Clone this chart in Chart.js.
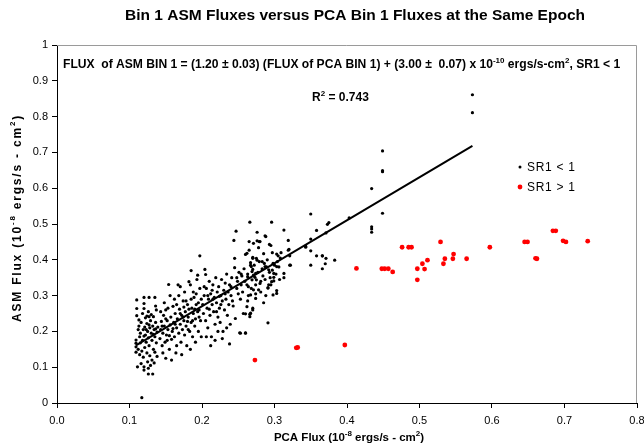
<!DOCTYPE html>
<html>
<head>
<meta charset="utf-8">
<script src="https://cdn.jsdelivr.net/npm/chart.js@4/dist/chart.umd.min.js"></script>
<style>
  html, body { margin: 0; padding: 0; background: #fff; }
  canvas { display: block; }
</style>
</head>
<body>
<canvas id="c" width="644" height="448"></canvas>
<script>
// ---------------- DATA ----------------
const chartTitle = "Bin 1 ASM Fluxes versus PCA Bin 1 Fluxes at the Same Epoch";
const xTicks = [0.0, 0.1, 0.2, 0.3, 0.4, 0.5, 0.6, 0.7, 0.8];
const yTicks = [0, 0.1, 0.2, 0.3, 0.4, 0.5, 0.6, 0.7, 0.8, 0.9, 1];
const legendLabels = ["SR1 < 1", "SR1 > 1"];
const rSquared = "0.743";

// fit line end points (ASM = 1.20 * PCA + 0.030)
const fitLine = [[0.109, 0.161], [0.573, 0.718]];

// SR1 > 1 points (red)
const sr1High = [
  [0.273,0.120],[0.330,0.154],[0.332,0.155],[0.397,0.162],
  [0.413,0.376],[0.448,0.375],[0.452,0.375],[0.457,0.375],[0.463,0.366],
  [0.476,0.435],[0.485,0.435],[0.489,0.435],[0.497,0.375],[0.497,0.344],
  [0.504,0.389],[0.507,0.374],[0.511,0.399],[0.529,0.450],[0.533,0.389],
  [0.535,0.403],[0.546,0.403],[0.547,0.416],[0.565,0.403],[0.597,0.435],
  [0.645,0.450],[0.649,0.450],[0.660,0.404],[0.662,0.403],[0.684,0.481],
  [0.688,0.481],[0.698,0.453],[0.702,0.450],[0.732,0.452]
];

// SR1 < 1 points (black)
const sr1LowA = [ // PCA 0.10 - 0.14
  [0.110,0.288],[0.110,0.264],[0.110,0.244],[0.109,0.176],[0.109,0.167],[0.109,0.157],[0.109,0.142],
  [0.111,0.101],[0.117,0.015],[0.120,0.101],[0.120,0.092],[0.126,0.097],[0.126,0.081],[0.132,0.081],
  [0.120,0.295],[0.127,0.295],[0.135,0.295],[0.120,0.278],[0.120,0.264],[0.124,0.243],[0.127,0.241],
  [0.133,0.241],[0.136,0.271],[0.137,0.260],[0.112,0.205],[0.113,0.215],[0.115,0.195],[0.114,0.185],
  [0.116,0.225],[0.118,0.175],[0.119,0.205],[0.121,0.212],[0.122,0.190],[0.123,0.170],[0.124,0.222],
  [0.125,0.200],[0.126,0.182],[0.127,0.160],[0.128,0.210],[0.129,0.230],[0.130,0.195],[0.131,0.175],
  [0.132,0.215],[0.133,0.150],[0.134,0.205],[0.135,0.185],[0.136,0.225],[0.137,0.168],[0.138,0.198],
  [0.139,0.212],[0.112,0.150],[0.114,0.135],[0.117,0.145],[0.119,0.128],[0.121,0.155],[0.124,0.140],
  [0.128,0.132],[0.131,0.120],[0.135,0.142],[0.138,0.130],[0.113,0.232],[0.118,0.250],[0.122,0.238],
  [0.126,0.255],[0.130,0.247],[0.115,0.168],[0.123,0.205],[0.127,0.218],[0.133,0.192],[0.136,0.207],
  [0.120,0.187],[0.116,0.110],[0.125,0.115],[0.129,0.105],[0.134,0.112]
];
const sr1LowB = [ // PCA 0.14 - 0.20
  [0.142,0.180],[0.143,0.205],[0.144,0.228],[0.145,0.160],[0.146,0.195],[0.147,0.245],[0.148,0.215],
  [0.149,0.170],[0.150,0.260],[0.151,0.190],[0.152,0.230],[0.153,0.205],[0.154,0.331],[0.155,0.150],
  [0.156,0.218],[0.157,0.240],[0.158,0.178],[0.159,0.200],[0.160,0.270],[0.161,0.225],[0.162,0.185],
  [0.163,0.250],[0.164,0.140],[0.165,0.210],[0.166,0.235],[0.167,0.330],[0.168,0.195],[0.169,0.262],
  [0.170,0.325],[0.170,0.220],[0.171,0.170],[0.172,0.245],[0.173,0.205],[0.174,0.285],[0.175,0.230],
  [0.176,0.190],[0.177,0.255],[0.178,0.215],[0.179,0.160],[0.180,0.275],[0.181,0.240],[0.182,0.339],
  [0.183,0.200],[0.184,0.330],[0.185,0.370],[0.185,0.225],[0.186,0.265],[0.187,0.185],[0.188,0.250],
  [0.189,0.295],[0.190,0.215],[0.191,0.235],[0.192,0.275],[0.193,0.345],[0.194,0.357],[0.195,0.200],
  [0.196,0.260],[0.197,0.411],[0.198,0.230],[0.199,0.290],[0.143,0.255],[0.146,0.140],[0.150,0.125],
  [0.153,0.265],[0.156,0.300],[0.158,0.120],[0.162,0.290],[0.165,0.160],[0.168,0.300],[0.172,0.135],
  [0.176,0.310],[0.178,0.285],[0.181,0.205],[0.184,0.150],[0.188,0.310],[0.191,0.170],[0.194,0.255],
  [0.197,0.320],[0.199,0.185],[0.145,0.215],[0.150,0.235],[0.155,0.188],[0.160,0.208],[0.165,0.275],
  [0.170,0.250],[0.175,0.268],[0.180,0.228],[0.185,0.290],[0.190,0.262],[0.195,0.280],[0.148,0.280],
  [0.152,0.175],[0.163,0.220],[0.174,0.240],[0.182,0.262],[0.187,0.230],[0.192,0.305],[0.196,0.240]
];
const sr1LowC = [ // PCA 0.20 - 0.26
  [0.204,0.373],[0.205,0.359],[0.201,0.275],[0.202,0.250],[0.203,0.300],[0.205,0.230],[0.206,0.320],
  [0.207,0.265],[0.208,0.210],[0.209,0.290],[0.210,0.340],[0.211,0.245],[0.212,0.305],[0.213,0.185],
  [0.214,0.275],[0.215,0.330],[0.216,0.255],[0.217,0.295],[0.218,0.220],[0.219,0.350],[0.220,0.280],
  [0.221,0.310],[0.222,0.240],[0.223,0.325],[0.224,0.265],[0.225,0.225],[0.226,0.300],[0.227,0.345],
  [0.228,0.285],[0.229,0.200],[0.230,0.315],[0.231,0.260],[0.232,0.335],[0.233,0.290],[0.234,0.360],
  [0.235,0.245],[0.236,0.310],[0.237,0.275],[0.238,0.330],[0.239,0.220],[0.240,0.300],[0.241,0.350],
  [0.242,0.285],[0.243,0.271],[0.244,0.454],[0.245,0.378],[0.245,0.404],[0.246,0.236],[0.247,0.480],
  [0.248,0.320],[0.249,0.340],[0.250,0.305],[0.251,0.365],[0.252,0.196],[0.253,0.290],[0.254,0.330],
  [0.255,0.355],[0.256,0.310],[0.257,0.250],[0.258,0.375],[0.259,0.340],[0.260,0.415],[0.260,0.196],
  [0.206,0.185],[0.212,0.160],[0.218,0.175],[0.222,0.200],[0.228,0.180],[0.234,0.210],[0.238,0.165],
  [0.210,0.262],[0.215,0.290],[0.220,0.255],[0.226,0.275],[0.232,0.305],[0.240,0.325],[0.248,0.350],
  [0.254,0.360],[0.203,0.325],[0.208,0.300],[0.214,0.315],[0.224,0.298],[0.253,0.195],[0.260,0.195]
];
const sr1LowD = [ // PCA 0.26 - 0.31
  [0.262,0.269],[0.263,0.360],[0.265,0.427],[0.265,0.451],[0.266,0.505],[0.266,0.248],[0.266,0.241],
  [0.267,0.392],[0.268,0.381],[0.269,0.344],[0.270,0.407],[0.270,0.373],[0.271,0.357],[0.273,0.351],
  [0.275,0.404],[0.276,0.477],[0.276,0.453],[0.278,0.434],[0.280,0.451],[0.285,0.417],[0.285,0.280],
  [0.288,0.465],[0.291,0.322],[0.291,0.224],[0.292,0.330],[0.294,0.350],[0.295,0.440],[0.296,0.505],
  [0.297,0.420],[0.297,0.371],[0.299,0.351],[0.303,0.416],[0.303,0.314],[0.305,0.411],[0.308,0.405],
  [0.262,0.330],[0.264,0.300],[0.268,0.320],[0.272,0.385],[0.274,0.330],[0.277,0.365],[0.279,0.395],
  [0.281,0.340],[0.283,0.375],[0.284,0.355],[0.286,0.390],[0.287,0.345],[0.289,0.380],[0.290,0.400],
  [0.293,0.365],[0.298,0.390],[0.300,0.385],[0.302,0.360],[0.304,0.395],[0.306,0.380],[0.307,0.345],
  [0.309,0.420],[0.263,0.285],[0.270,0.260],[0.274,0.305],[0.281,0.310],[0.288,0.300],[0.295,0.330],
  [0.267,0.251],[0.260,0.249],[0.270,0.265],[0.303,0.306],[0.298,0.302],[0.291,0.321],[0.296,0.339],
  [0.299,0.341],[0.287,0.467],[0.279,0.451],[0.293,0.443],[0.271,0.446],[0.262,0.418],[0.270,0.404],
  [0.276,0.399],[0.267,0.385],[0.269,0.367],[0.274,0.362],[0.263,0.353],[0.275,0.344],[0.264,0.325],
  [0.271,0.316],[0.278,0.316],[0.267,0.302],[0.274,0.292],[0.280,0.334],[0.287,0.381],[0.283,0.395],
  [0.292,0.372],[0.299,0.362],[0.303,0.381]
];
const sr1LowE = [ // PCA > 0.31
  [0.313,0.483],[0.313,0.362],[0.313,0.350],[0.319,0.454],[0.319,0.427],[0.320,0.429],[0.321,0.411],
  [0.321,0.385],[0.322,0.385],[0.343,0.438],[0.343,0.435],[0.350,0.528],[0.350,0.458],[0.350,0.425],
  [0.350,0.385],[0.358,0.482],[0.358,0.411],[0.366,0.411],[0.366,0.375],[0.370,0.389],[0.371,0.404],
  [0.371,0.475],[0.373,0.499],[0.375,0.504],[0.383,0.399],[0.403,0.517],[0.366,0.411],
  [0.434,0.599],[0.434,0.492],[0.434,0.486],[0.434,0.477],[0.449,0.704],[0.449,0.649],[0.449,0.646],
  [0.449,0.530],[0.573,0.861],[0.573,0.811]
];
const sr1Low = [].concat(sr1LowA, sr1LowB, sr1LowC, sr1LowD, sr1LowE);

// ---------------- DRAWING ----------------
const FAM = '"Liberation Sans", Arial, Helvetica, sans-serif';
const toXY = arr => arr.map(p => ({x: p[0], y: p[1]}));

function rich(ctx, segs, x, y, size, bold, align, spacing) {
  const fontFor = s => (bold ? 'bold ' : '') + (s.sup ? Math.round(size * 0.68) : size) + 'px ' + FAM;
  try { ctx.letterSpacing = (spacing || 0) + 'px'; } catch (e) {}
  let total = 0;
  segs.forEach(s => { ctx.font = fontFor(s); total += ctx.measureText(s.t).width; });
  let cx = align === 'center' ? x - total / 2 : x;
  ctx.textAlign = 'left';
  ctx.textBaseline = 'alphabetic';
  segs.forEach(s => {
    ctx.font = fontFor(s);
    ctx.fillText(s.t, cx, s.sup ? y - size * 0.42 : y);
    cx += ctx.measureText(s.t).width;
  });
  try { ctx.letterSpacing = '0px'; } catch (e) {}
}

const decor = {
  id: 'decor',
  afterDraw(chart) {
    const ctx = chart.ctx;
    const a = chart.chartArea;
    ctx.save();
    // plot frame top/right
    ctx.strokeStyle = '#9a9a9a';
    ctx.lineWidth = 1;
    ctx.beginPath();
    ctx.moveTo(a.left, a.top + 0.5);
    ctx.lineTo(a.right - 0.5, a.top + 0.5);
    ctx.lineTo(a.right - 0.5, a.bottom);
    ctx.stroke();

    ctx.fillStyle = '#000';
    // title
    ctx.font = 'bold 15.5px ' + FAM;
    ctx.textAlign = 'center';
    ctx.textBaseline = 'alphabetic';
    ctx.fillText(chartTitle, 355, 20);

    // equation
    rich(ctx, [
      {t: 'FLUX  of ASM BIN 1 = (1.20 \u00b1 0.03) (FLUX of PCA BIN 1) + (3.00 \u00b1  0.07) x 10'},
      {t: '-10', sup: true},
      {t: ' ergs/s-cm'},
      {t: '2', sup: true},
      {t: ', SR1 < 1'}
    ], 63, 68, 12.1, true, 'left');

    // R^2
    rich(ctx, [{t: 'R'}, {t: '2', sup: true}, {t: ' = ' + rSquared}], 312, 101, 12, true, 'left');

    // legend
    ctx.fillStyle = '#000';
    ctx.beginPath(); ctx.arc(520, 167, 1.5, 0, Math.PI * 2); ctx.fill();
    ctx.fillStyle = '#ff0000';
    ctx.beginPath(); ctx.arc(520, 187, 2.4, 0, Math.PI * 2); ctx.fill();
    ctx.fillStyle = '#000';
    ctx.font = '12px ' + FAM;
    ctx.textAlign = 'left';
    ctx.textBaseline = 'middle';
    try { ctx.letterSpacing = '0.7px'; } catch (e) {}
    ctx.fillText(legendLabels[0], 527, 168);
    ctx.fillText(legendLabels[1], 527, 188);
    try { ctx.letterSpacing = '0px'; } catch (e) {}

    // axis titles
    const midX = (a.left + a.right) / 2;
    rich(ctx, [
      {t: 'PCA Flux (10'}, {t: '-8', sup: true}, {t: ' ergs/s - cm'}, {t: '2', sup: true}, {t: ')'}
    ], midX + 2, 441, 11.5, true, 'center');
    ctx.save();
    ctx.translate(16, 218);
    ctx.rotate(-Math.PI / 2);
    rich(ctx, [
      {t: 'ASM Flux (10'}, {t: '-8', sup: true}, {t: ' ergs/s - cm'}, {t: '2', sup: true}, {t: ')'}
    ], 0, 4.5, 12, true, 'center', 1.8);
    ctx.restore();
    ctx.restore();
  }
};

const tickFont = {family: FAM, size: 11};

new Chart(document.getElementById('c'), {
  type: 'scatter',
  data: {
    datasets: [
      {
        label: legendLabels[0],
        data: toXY(sr1Low),
        pointRadius: 1.6,
        pointBackgroundColor: '#000',
        pointBorderWidth: 0,
        order: 2
      },
      {
        label: legendLabels[1],
        data: toXY(sr1High),
        pointRadius: 2.4,
        pointBackgroundColor: '#ff0000',
        pointBorderWidth: 0,
        order: 3
      },
      {
        label: 'fit',
        data: toXY(fitLine),
        showLine: true,
        borderColor: '#000',
        borderWidth: 2,
        pointRadius: 0,
        order: 1
      }
    ]
  },
  options: {
    responsive: false,
    animation: false,
    devicePixelRatio: 1,
    layout: {padding: {left: 0, right: 7, top: 45, bottom: 0}},
    plugins: {legend: {display: false}, tooltip: {enabled: false}, title: {display: false}},
    scales: {
      x: {
        type: 'linear', min: xTicks[0], max: xTicks[xTicks.length - 1],
        afterBuildTicks: s => { s.ticks = xTicks.map(v => ({value: v})); },
        ticks: {callback: v => Number(v).toFixed(1), font: tickFont, color: '#000', padding: 6, maxRotation: 0, autoSkip: false},
        grid: {drawOnChartArea: false, drawTicks: true, tickLength: 5, color: '#000'},
        border: {color: '#000', width: 1},
        afterFit: s => { s.height = 45; s.paddingLeft = 0; s.paddingRight = 0; }
      },
      y: {
        type: 'linear', min: yTicks[0], max: yTicks[yTicks.length - 1],
        afterBuildTicks: s => { s.ticks = yTicks.map(v => ({value: v})); },
        ticks: {callback: v => String(Math.round(v * 10) / 10), font: tickFont, color: '#000', padding: 4, autoSkip: false},
        grid: {drawOnChartArea: false, drawTicks: true, tickLength: 5, color: '#000'},
        border: {color: '#000', width: 1},
        afterFit: s => { s.width = 57; s.paddingTop = 0; s.paddingBottom = 0; }
      }
    }
  },
  plugins: [decor]
});
</script>
</body>
</html>
